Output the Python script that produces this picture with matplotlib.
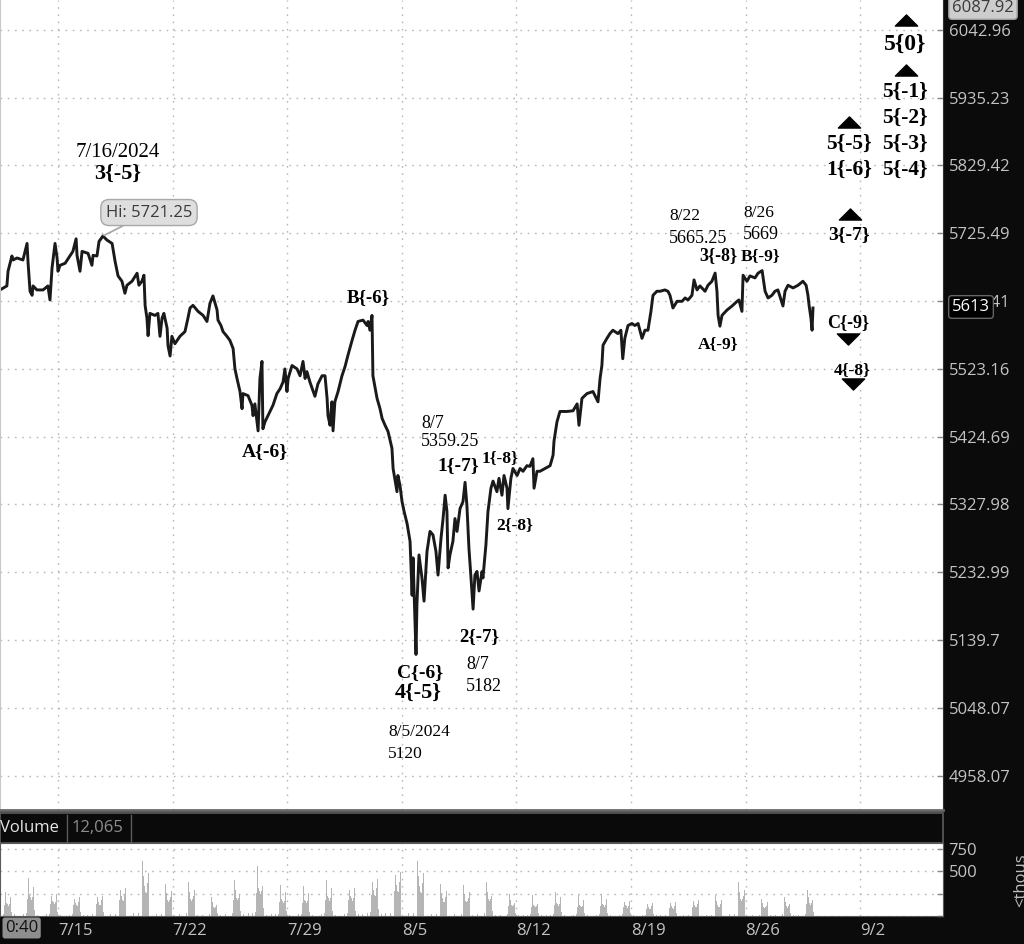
import matplotlib
matplotlib.use("Agg")
import matplotlib.pyplot as plt
from matplotlib.path import Path
from matplotlib.patches import Rectangle
from matplotlib.lines import Line2D

plt.rcParams["font.family"] = ["Open Sans", "DejaVu Sans"]

# price line, x = trading days counted from the 7/15 session start
line_day = [
    -2.53, -2.23, -2.18, -2.01, -1.96, -1.79, -1.53, -1.35, -1.31, -1.22,
    -1.13, -1.09, -0.92, -0.65, -0.44, -0.35, -0.26, -0.13, -0.04, 0.00,
    0.09, 0.31, 0.52, 0.65, 0.79, 0.83, 0.96, 1.05, 1.31, 1.48,
    1.53, 1.70, 1.79, 1.96, 2.14, 2.36, 2.49, 2.62, 2.79, 2.92,
    3.01, 3.23, 3.45, 3.53, 3.66, 3.75, 3.80, 3.88, 3.93, 4.01,
    4.23, 4.36, 4.45, 4.54, 4.62, 4.76, 4.80, 4.89, 4.97, 5.10,
    5.32, 5.54, 5.67, 5.76, 5.89, 6.11, 6.33, 6.50, 6.63, 6.76,
    6.94, 6.98, 7.11, 7.20, 7.37, 7.50, 7.64, 7.72, 7.81, 7.94,
    8.03, 8.07, 8.29, 8.46, 8.51, 8.59, 8.73, 8.81, 8.90, 8.94,
    9.03, 9.16, 9.38, 9.55, 9.69, 9.82, 9.90, 9.99, 10.04, 10.21,
    10.43, 10.56, 10.69, 10.78, 10.86, 10.99, 11.21, 11.34, 11.52, 11.65,
    11.74, 11.78, 11.87, 11.95, 12.00, 12.08, 12.22, 12.39, 12.52, 12.65,
    12.83, 12.96, 13.09, 13.31, 13.48, 13.53, 13.61, 13.70, 13.74, 13.92,
    14.05, 14.14, 14.27, 14.40, 14.57, 14.62, 14.79, 14.83, 14.92, 15.01,
    15.10, 15.23, 15.31, 15.36, 15.45, 15.49, 15.62, 15.66, 15.75, 15.88,
    15.97, 16.10, 16.23, 16.36, 16.49, 16.58, 16.71, 16.80, 16.89, 16.97,
    17.02, 17.10, 17.23, 17.32, 17.41, 17.54, 17.67, 17.76, 17.84, 17.93,
    18.02, 18.11, 18.19, 18.28, 18.37, 18.50, 18.54, 18.67, 18.76, 18.89,
    18.98, 19.15, 19.24, 19.37, 19.46, 19.59, 19.63, 19.76, 19.85, 20.03,
    20.16, 20.29, 20.46, 20.59, 20.72, 20.77, 20.90, 21.03, 21.25, 21.47,
    21.60, 21.64, 21.77, 21.90, 22.21, 22.47, 22.65, 22.73, 22.86, 23.08,
    23.34, 23.56, 23.65, 23.73, 23.78, 23.95, 24.08, 24.21, 24.43, 24.56,
    24.64, 24.73, 24.87, 25.04, 25.17, 25.31, 25.48, 25.61, 25.74, 25.87,
    25.96, 26.13, 26.27, 26.48, 26.61, 26.70, 26.83, 27.01, 27.23, 27.36,
    27.49, 27.66, 27.75, 27.88, 28.01, 28.23, 28.36, 28.53, 28.67, 28.75,
    28.80, 28.88, 28.97, 29.19, 29.41, 29.63, 29.71, 29.84, 29.89, 30.06,
    30.19, 30.41, 30.54, 30.72, 30.85, 30.98, 31.15, 31.28, 31.41, 31.63,
    31.72, 31.85, 32.07, 32.29, 32.50, 32.64, 32.72, 32.77, 32.85, 32.90,
    32.94,
]
line_price = [
    5640, 5646, 5668, 5691, 5685, 5688, 5685, 5710, 5683, 5638,
    5632, 5646, 5640, 5640, 5646, 5625, 5673, 5710, 5688, 5668,
    5677, 5680, 5691, 5698, 5717, 5692, 5668, 5698, 5695, 5677,
    5692, 5691, 5713, 5721.25, 5715, 5710, 5683, 5661, 5653, 5635,
    5647, 5653, 5665, 5647, 5653, 5662, 5617, 5598, 5572, 5605,
    5602, 5605, 5571, 5598, 5605, 5583, 5557, 5542, 5571, 5560,
    5571, 5578, 5598, 5613, 5617, 5608, 5602, 5593, 5620, 5631,
    5610, 5595, 5587, 5578, 5571, 5565, 5553, 5523, 5509, 5490,
    5465, 5487, 5484, 5470, 5455, 5472, 5433, 5509, 5534, 5436,
    5446, 5455, 5470, 5487, 5494, 5504, 5523, 5490, 5509, 5528,
    5523, 5513, 5534, 5509, 5519, 5504, 5483, 5501, 5513, 5513,
    5480, 5455, 5441, 5475, 5433, 5475, 5490, 5513, 5526, 5543,
    5565, 5580, 5593, 5595, 5587, 5593, 5580, 5602, 5513, 5480,
    5465, 5451, 5441, 5432, 5408, 5379, 5346, 5369, 5355, 5332,
    5318, 5301, 5285, 5276, 5201, 5253, 5120, 5188, 5257, 5225,
    5193, 5262, 5290, 5285, 5262, 5229, 5280, 5308, 5341, 5318,
    5239, 5257, 5276, 5308, 5290, 5322, 5332, 5359.25, 5327, 5266,
    5225, 5182, 5229, 5234, 5207, 5234, 5225, 5271, 5318, 5351,
    5361, 5346, 5365, 5341, 5369, 5351, 5322, 5365, 5379, 5369,
    5379, 5375, 5383, 5382, 5393, 5351, 5375, 5375, 5379, 5383,
    5398, 5418, 5446, 5461, 5461, 5462, 5472, 5441, 5480, 5487,
    5490, 5475, 5509, 5528, 5558, 5568, 5575, 5580, 5575, 5580,
    5538, 5568, 5587, 5590, 5587, 5590, 5568, 5580, 5580, 5608,
    5632, 5638, 5638, 5640, 5638, 5632, 5613, 5623, 5623, 5628,
    5625, 5632, 5655, 5640, 5646, 5638, 5647, 5653, 5665.25, 5638,
    5602, 5586, 5602, 5610, 5616, 5623, 5625, 5608, 5662, 5653,
    5661, 5658, 5665, 5669, 5638, 5628, 5632, 5638, 5640, 5616,
    5638, 5647, 5643, 5647, 5653, 5647, 5632, 5617, 5598, 5580,
    5613,
]

price_ticks = [4958.07, 5048.07, 5139.7, 5232.99, 5327.98, 5424.69,
               5523.16, 5623.41, 5725.49, 5829.42, 5935.23, 6042.96]
price_labels = ["4958.07", "5048.07", "5139.7", "5232.99", "5327.98", "5424.69",
                "5523.16", "5623.41", "5725.49", "5829.42", "5935.23", "6042.96"]

week_days = [0, 5, 10, 15, 20, 25, 30, 35]
week_labels = ["7/15", "7/22", "7/29", "8/5", "8/12", "8/19", "8/26", "9/2"]

# volume in thousands: session peak per trading day (days -3 .. 32)
vol_days = list(range(-3, 33))
vol_peak = [270, 420, 310, 270, 290, 400, 620, 360, 380, 210,
            400, 565, 345, 335, 400, 405, 530, 630, 620, 360,
            345, 380, 250, 230, 270, 230, 250, 215, 180, 195,
            230, 230, 380, 195, 215, 290]
# intraday profile of one session relative to its peak (read off a typical day)
session_pos = [0.10, 0.30, 0.50, 0.62, 0.67, 0.70, 0.73, 0.76, 0.79,
               0.82, 0.85, 0.88, 0.91, 0.94, 0.97]
session_rel = [0.04, 0.05, 0.06, 0.08, 0.45, 1.00, 0.72, 0.55, 0.50,
               0.44, 0.42, 0.50, 0.60, 0.78, 0.15]

W, H = 1024, 944
PX_PER_DAY = 22.92


def box(x0, y0, x1, y1):
    """figure fraction rect from pixel corners (y measured from top)"""
    return [x0 / W, 1 - y1 / H, (x1 - x0) / W, (y1 - y0) / H]


def fxy(x, y):
    return x / W, 1 - y / H


fig = plt.figure(figsize=(W / 100, H / 100), dpi=100, facecolor="#0b0b0b")
ax = fig.add_axes(box(0, 0, 943, 810))
axv = fig.add_axes(box(0, 843, 943, 916))

x_lo = -58 / PX_PER_DAY
x_hi = (943 - 58) / PX_PER_DAY
grid_kw = dict(color="#b8b8b8", linestyle=(0, (1.2, 4)), linewidth=1.0)
tick_kw = dict(direction="in", length=4, width=1, color="#8a8a8a", pad=4,
               labelsize=12, labelcolor="#c3c3c3")

# ---- price panel
ax.set_facecolor("white")
ax.plot(line_day, line_price, color="#1a1a1a", lw=2.1, solid_joinstyle="round")
ax.set_yscale("log")
ax.set_ylim(4913, 6091)
ax.set_xlim(x_lo, x_hi)
ax.set_yticks(price_ticks, labels=price_labels)
ax.minorticks_off()
ax.yaxis.tick_right()
ax.tick_params(axis="y", **tick_kw)
ax.set_xticks(week_days)
ax.tick_params(axis="x", length=0, labelbottom=False)
ax.grid(True, **grid_kw)
ax.spines["top"].set_visible(False)
ax.spines["left"].set_color("#c8c8c8")
ax.spines["right"].set_color("#303030")
ax.spines["bottom"].set_color("#6a6a6a")
ax.spines["bottom"].set_linewidth(2)

# Hi callout
ax.annotate("Hi: 5721.25", xy=(1.96, 5721.25), xytext=(3.97, 5757),
            ha="center", va="center", fontsize=12, color="#3a3a3a",
            bbox=dict(boxstyle="round,pad=0.3,rounding_size=0.5",
                      fc="#dedede", ec="#a8a8a8", lw=1),
            arrowprops=dict(arrowstyle="-", color="#a8a8a8", lw=1.3,
                            shrinkA=0, shrinkB=1))

serif = "Liberation Serif"
labels = [
    ("7/16/2024", 2.62, 5850, 15, "normal", "center"),
    ("3{-5}", 2.62, 5816, 16, "bold", "center"),
    ("A{-6}", 9.03, 5403, 14, "bold", "center"),
    ("B{-6}", 13.53, 5628, 13.5, "bold", "center"),
    ("8/7", 15.84, 5443, 13, "normal", "left"),
    ("5359.25", 15.84, 5417, 13, "normal", "left"),
    ("1{-7}", 17.45, 5383, 14, "bold", "center"),
    ("1{-8}", 19.28, 5394, 12.5, "bold", "center"),
    ("2{-8}", 19.94, 5299, 12.5, "bold", "center"),
    ("2{-7}", 18.37, 5145, 13.5, "bold", "center"),
    ("8/7", 17.80, 5106, 13, "normal", "left"),
    ("5182", 17.80, 5076, 13, "normal", "left"),
    ("C{-6}", 15.79, 5095, 14, "bold", "center"),
    ("4{-5}", 15.71, 5068, 16, "bold", "center"),
    ("8/5/2024", 14.40, 5016, 12.5, "normal", "left"),
    ("5120", 14.40, 4987, 12.5, "normal", "left"),
    ("8/22", 26.66, 5752, 12.5, "normal", "left"),
    ("5665.25", 26.66, 5718, 13, "normal", "left"),
    ("8/26", 29.89, 5756, 12.5, "normal", "left"),
    ("5669", 29.89, 5723, 13, "normal", "left"),
    ("3{-8}", 28.80, 5692, 13, "bold", "center"),
    ("B{-9}", 30.63, 5691, 12.5, "bold", "center"),
    ("A{-9}", 28.80, 5560, 12.5, "bold", "center"),
    ("C{-9}", 34.47, 5591, 13, "bold", "center"),
    ("4{-8}", 34.64, 5521, 12.5, "bold", "center"),
    ("3{-7}", 34.51, 5724, 14, "bold", "center"),
    ("5{-5}", 34.51, 5863, 15.5, "bold", "center"),
    ("1{-6}", 34.51, 5822, 15.5, "bold", "center"),
    ("5{0}", 36.95, 6020, 17, "bold", "center"),
    ("5{-1}", 36.95, 5944, 15.5, "bold", "center"),
    ("5{-2}", 36.95, 5903, 15.5, "bold", "center"),
    ("5{-3}", 36.95, 5863, 15.5, "bold", "center"),
    ("5{-4}", 36.95, 5822, 15.5, "bold", "center"),
]
for txt, d, p, size, weight, ha in labels:
    ax.text(d, p, txt, family=serif, fontsize=size, fontweight=weight,
            ha=ha, va="center", color="black")

tri_up = Path([(-1, -0.5), (1, -0.5), (0, 0.5), (-1, -0.5)],
              [Path.MOVETO, Path.LINETO, Path.LINETO, Path.CLOSEPOLY])
tri_dn = Path([(-1, 0.5), (1, 0.5), (0, -0.5), (-1, 0.5)],
              [Path.MOVETO, Path.LINETO, Path.LINETO, Path.CLOSEPOLY])
ax.plot([34.51, 34.55, 37.0, 36.99], [5897, 5755, 6059, 5979], ls="none",
        marker=tri_up, ms=16, color="black", clip_on=False)
ax.plot([34.47, 34.69], [5567, 5501], ls="none",
        marker=tri_dn, ms=16, color="black", clip_on=False)

# ---- volume panel
vx, vy = [], []
for d, pk in zip(vol_days, vol_peak):
    for pos, rel in zip(session_pos, session_rel):
        vx.append(d + pos)
        vy.append(pk * rel)
axv.set_facecolor("white")
axv.bar(vx, vy, width=0.032, color="#b5b5b5", zorder=2)
axv.set_xlim(x_lo, x_hi)
axv.set_ylim(0, 817)
axv.set_yticks([0, 250, 500, 750], labels=["", "", "500", "750"])
axv.yaxis.tick_right()
axv.tick_params(axis="y", **tick_kw)
axv.set_xticks(week_days, labels=week_labels)
axv.tick_params(axis="x", length=0, pad=5, labelsize=12, labelcolor="#c3c3c3")
for lbl in axv.get_xticklabels():
    lbl.set_horizontalalignment("left")
axv.grid(True, **grid_kw)
for s in axv.spines.values():
    s.set_color("#5a5a5a")

# ---- volume header bar
fig.add_artist(Rectangle(fxy(0, 843), 943 / W, 30 / H, transform=fig.transFigure,
                         fc="#0a0a0a", ec="#5c5c5c", lw=1.2))
for xs in (67, 131):
    fig.add_artist(Line2D([xs / W, xs / W], [1 - 815 / H, 1 - 842 / H],
                          transform=fig.transFigure, color="#5c5c5c", lw=1))
fig.text(*fxy(0, 828), "Volume", color="#e6e6e6", fontsize=12, ha="left", va="center")
fig.text(*fxy(72, 828), "12,065", color="#8e8e8e", fontsize=12, ha="left", va="center")

# ---- axis extras
fig.text(*fxy(983, 8), "6087.92", color="#3a3a3a", fontsize=12, ha="center", va="center",
         bbox=dict(boxstyle="round,pad=0.2", fc="#cdcdcd", ec="#9a9a9a", lw=1))
fig.text(*fxy(971, 307), "5613", color="white", fontsize=12, ha="center", va="center",
         bbox=dict(boxstyle="round,pad=0.2", fc="black", ec="#666666", lw=1))
fig.text(*fxy(5, 928), "0:40", color="#111111", fontsize=12, ha="left", va="center",
         bbox=dict(boxstyle="round,pad=0.15", fc="#8e8e8e", ec="none"))
fig.text(*fxy(1021, 880), "<thous", color="#bdbdbd", fontsize=12, rotation=90,
         ha="center", va="center")

fig.savefig("out.png", dpi=100, facecolor=fig.get_facecolor())
